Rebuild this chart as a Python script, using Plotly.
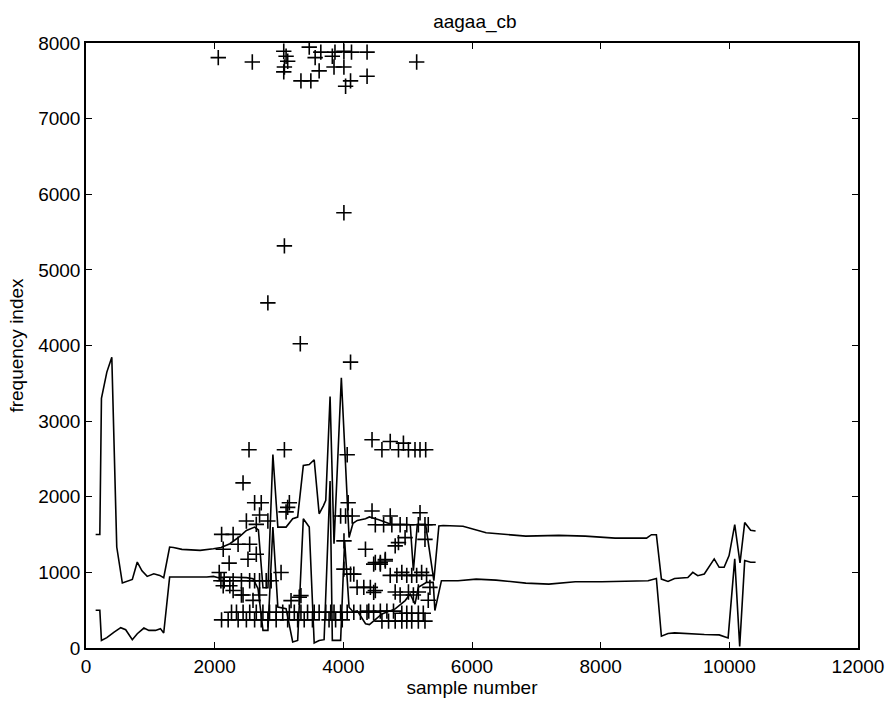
import plotly.graph_objects as go

# ---- upper track ----
upper_x = [150, 215, 240, 324, 401, 478, 565, 640, 720, 797, 870, 951, 1054, 1146, 1208, 1300, 1360,
           1491, 1774, 1980, 2100, 2237, 2391, 2494, 2622, 2680, 2751, 2828, 2905, 2982, 3110, 3213,
           3290, 3378, 3470, 3547, 3624, 3690, 3727, 3794, 3855, 3969, 4035, 4089, 4150, 4217, 4345,
           4405, 4551, 4739, 4945, 5040, 5089, 5150, 5279, 5407, 5485, 5551, 5860, 6220, 6836, 7350,
           7761, 8224, 8713, 8789, 8866, 8944, 9047, 9149, 9355, 9432, 9509, 9611, 9765, 9842, 9919,
           9996, 10084, 10166, 10239, 10331, 10408]
upper_y = [1500, 1500, 3300, 3648, 3846, 1335, 859, 880, 907, 1137, 1020, 947, 982, 960, 930, 1335, 1330,
           1304, 1291, 1313, 1330, 1379, 1476, 1555, 1599, 1560, 797, 797, 2559, 1599, 1599, 1709,
           1731, 2414, 2427, 2489, 1775, 1880, 1952, 3326, 1379, 3573, 2304, 1461, 1650, 1687, 1709,
           1733, 1696, 1636, 1636, 1630, 1022, 1636, 1636, 891, 1614, 1620, 1610, 1524, 1480, 1489,
           1480, 1453, 1453, 1498, 1498, 911, 880, 920, 933, 1000, 956, 978, 1178, 1067, 1067,
           1222, 1631, 1124, 1658, 1556, 1547]

# ---- lower track ----
lower_x = [150, 215, 240, 324, 437, 540, 617, 720, 797, 900, 977, 1080, 1157, 1208, 1300, 1465, 1774,
           1877, 1980, 2057, 2186, 2494, 2597, 2674, 2751, 2828, 2905, 2982, 3110, 3213, 3290, 3378,
           3470, 3547, 3624, 3701, 3794, 3829, 3880, 3958, 4020, 4089, 4150, 4217, 4345, 4405, 4600,
           4806, 4961, 5038, 5114, 5166, 5294, 5397, 5423, 5525, 5783, 6065, 6373, 6836, 7195, 7606,
           8017, 8428, 8737, 8866, 8944, 9047, 9149, 9611, 9842, 9981, 10084, 10161, 10239, 10331, 10408]
lower_y = [500, 500, 101, 137, 211, 269, 242, 110, 189, 264, 233, 233, 256, 198, 938, 938, 930,
           938, 947, 930, 938, 930, 916, 784, 233, 233, 1600, 540, 520, 80, 100, 1709,
           1599, 66, 100, 110, 2207, 101, 101, 101, 1420, 540, 480, 490, 320, 310, 451,
           517, 627, 714, 580, 802, 868, 868, 496, 890, 890, 911, 898, 858, 844, 876,
           876, 889, 889, 920, 156, 191, 200, 178, 173, 133, 1178, 22, 1156, 1133, 1133]

# ---- peak points (+) ----
pts_x = [2056, 2585, 3074, 3110, 3135, 3084, 3074, 3341, 3495, 3470, 3650, 3562, 3624, 3829, 3870,
         3855, 4009, 4009, 4127, 4035, 4112, 4369, 4369, 5140, 4009, 3084, 2827, 3331, 4112,
         2534, 3084, 2441, 2621, 2724, 3161, 3135, 3110, 2493, 2698, 2647, 2827,
         2108, 2287, 2133, 2364, 2544, 2518, 2647, 2225, 2071, 3032,
         2097, 2148, 2287, 2416, 2544, 2621, 2698, 2801, 2878,
         2133, 2236, 2287, 2416, 2441, 2596, 2699, 3187, 3315, 3341,
         2262, 2339, 2442, 2545, 2647, 2750, 2853, 2956, 3058, 3161, 3238, 3341, 3444, 3547, 3624,
         3727, 3804, 3855, 3958, 4060, 4163, 4266, 4368, 4471,
         2107, 2210, 2365, 2493, 2621, 2724, 2827, 2956, 3135, 3290, 3392, 3520, 3778, 3880, 3983,
         4446, 4600, 4729, 4857, 4934, 5012, 5114, 5192, 5280, 4060, 4075,
         3958, 4035, 4138, 4446, 4729, 5192, 4010, 4344, 4472, 4575, 4652, 4009, 4112, 4163,
         4214, 4318, 4420, 4497,
         4497, 4626, 4754, 4883, 4986, 5166, 5269, 5320, 4960, 4857, 4806, 5269, 4497, 4575, 4652,
         4729, 4832, 4909, 4986, 5063, 5140, 5217, 5294, 5346, 5320, 4472, 4806, 4883, 5012,
         5089, 5166, 4575, 4677, 4780, 4909, 4986, 5063, 5166, 5243,
         4600, 4703, 4806, 4909, 4986, 5063, 5166, 5269, 4395]
pts_y = [7806, 7749, 7890, 7824, 7758, 7683, 7618, 7499, 7499, 7946, 7880, 7806, 7631, 7824, 7880,
         7683, 7683, 7890, 7880, 7429, 7499, 7880, 7560, 7749, 5755, 5317, 4563, 4024, 3780,
         2621, 2621, 2183, 1920, 1920, 1920, 1860, 1800, 1679, 1758, 1635, 1679,
         1503, 1503, 1306, 1372, 1372, 1174, 1240, 1122, 999, 999,
         890, 890, 890, 890, 890, 890, 890, 890, 890,
         824, 824, 760, 700, 700, 630, 700, 627, 671, 693,
         473, 473, 473, 473, 473, 473, 473, 473, 473, 473, 473, 473, 473, 473, 473,
         473, 473, 473, 473, 473, 473, 473, 473, 473,
         372, 372, 372, 372, 372, 372, 372, 372, 372, 372, 372, 372, 372, 372, 372,
         2753, 2621, 2731, 2621, 2709, 2621, 2621, 2621, 2621, 2556, 1920,
         1745, 1745, 1745, 1811, 1745, 1789, 1416, 1306, 1109, 1109, 1150, 1043, 977, 977,
         802, 802, 802, 760,
         1630, 1630, 1630, 1630, 1630, 1630, 1630, 1630, 1460, 1394, 1350, 1437, 1131, 1131, 1170,
         960, 960, 1000, 960, 960, 960, 1000, 960, 802, 631, 736, 740, 700, 740,
         700, 740, 487, 487, 487, 460, 460, 460, 460, 460,
         355, 355, 355, 355, 355, 355, 355, 355, 487]

title_text = "aagaa_cb"
x_title = "sample number"
y_title = "frequency index"
x_ticks = [0, 2000, 4000, 6000, 8000, 10000, 12000]
y_ticks = [0, 1000, 2000, 3000, 4000, 5000, 6000, 7000, 8000]

FONT = "Liberation Sans, Arial, Helvetica, sans-serif"

fig = go.Figure()
fig.add_trace(go.Scatter(x=upper_x, y=upper_y, mode="lines",
                         line=dict(color="black", width=1.6), showlegend=False))
fig.add_trace(go.Scatter(x=lower_x, y=lower_y, mode="lines",
                         line=dict(color="black", width=1.6), showlegend=False))
fig.add_trace(go.Scatter(x=pts_x, y=pts_y, mode="markers",
                         marker=dict(symbol="cross-thin", size=11,
                                     line=dict(color="black", width=1.6)),
                         showlegend=False))

fig.update_layout(
    width=896, height=702,
    margin=dict(l=86, r=31, t=43, b=50),
    paper_bgcolor="white", plot_bgcolor="white",
    font=dict(family=FONT, size=19, color="black"),
    title=dict(text=title_text, x=0.53, xanchor="center", y=0.97, yanchor="middle",
               font=dict(family=FONT, size=19, color="black")),
)
fig.update_xaxes(range=[0, 12000], tickvals=x_ticks, ticktext=[str(v) for v in x_ticks],
                 showgrid=False, zeroline=False, showline=True, linecolor="black", linewidth=1.5,
                 mirror="ticks", ticks="inside", ticklen=6, tickcolor="black", tickwidth=1.2,
                 tickfont=dict(size=19), title=dict(text=x_title, standoff=0, font=dict(size=19)))
fig.update_yaxes(range=[0, 8000], tickvals=y_ticks, ticktext=[str(v) for v in y_ticks],
                 showgrid=False, zeroline=False, showline=True, linecolor="black", linewidth=1.5,
                 mirror="ticks", ticks="inside", ticklen=6, tickcolor="black", tickwidth=1.2,
                 tickfont=dict(size=19), title=dict(text=y_title, standoff=10, font=dict(size=19)))

fig.write_html("out.html", config={"displayModeBar": False},
               post_script="document.body.style.margin='0px';document.body.style.padding='0px';")
